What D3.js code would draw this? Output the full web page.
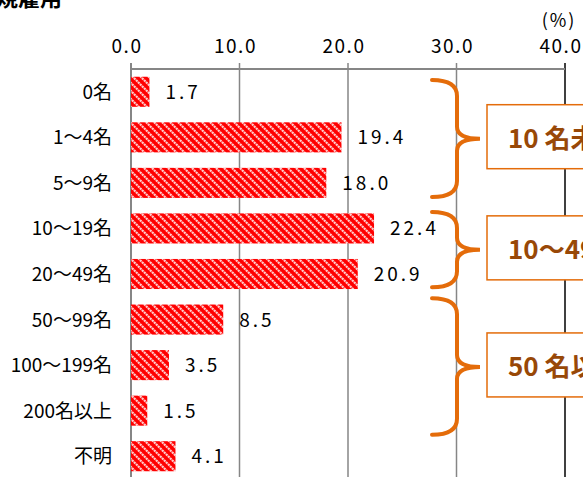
<!DOCTYPE html>
<html>
<head>
<meta charset="utf-8">
<script src="https://cdn.jsdelivr.net/npm/d3@7"></script>
<style>
  body { margin: 0; background: #fff; }
  svg { display: block; font-family: "Noto Sans CJK JP", "Noto Sans", sans-serif; }
</style>
</head>
<body>
<div id="root"></div>
<script>
// data
const categories = ["0名", "1～4名", "5～9名", "10～19名", "20～49名", "50～99名", "100～199名", "200名以上", "不明"]
const values = [1.7, 19.4, 18.0, 22.4, 20.9, 8.5, 3.5, 1.5, 4.1]
const ticks = [0, 10, 20, 30, 40]
// groups: label, brace start/tip/end in row units
const groupLabels = ["10 名未満", "10～49名", "50 名以上"]
const groupStart = [0.24, 3.14, 5.03]
const groupTip = [1.53, 3.97, 6.54]
const groupEnd = [2.81, 4.79, 8.03]

const w = 583, h = 477
const mLeft = 131, mRight = 565, mTop = 69, mBottom = 479

const x = d3.scaleLinear().domain([0, 40]).range([mLeft, mRight])
const y = d3.scaleBand().domain(categories).range([mTop, mBottom]).paddingInner(0.34).paddingOuter(0.17)
const rowY = d3.scaleLinear().domain([0, categories.length]).range([mTop, mBottom])

const svg = d3.select("#root").append("svg")
    .attr("width", w)
    .attr("height", h)

// hatch pattern
const pat = svg.append("defs").append("pattern")
    .attr("id", "hatch")
    .attr("patternUnits", "userSpaceOnUse")
    .attr("width", 8)
    .attr("height", 8)
pat.append("rect").attr("width", 8).attr("height", 8).attr("fill", "#ff0000")
pat.append("path")
    .attr("d", "M-2,-2 L10,10 M-2,6 L2,10 M6,-2 L10,2")
    .attr("stroke", "#ffffff")
    .attr("stroke-opacity", 0.8)
    .attr("stroke-width", 2.2)
    .attr("stroke-dasharray", "2.2,0.6")

// title (cut at top)
svg.append("text")
    .attr("x", 62)
    .attr("y", 6)
    .attr("text-anchor", "end")
    .attr("font-size", 22)
    .attr("font-weight", "bold")
    .attr("fill", "#000")
    .text("正規雇用")

svg.append("text")
    .attr("x", 559)
    .attr("y", 27)
    .attr("text-anchor", "middle")
    .attr("font-size", 18)
    .attr("letter-spacing", 2)
    .attr("fill", "#000")
    .text("(%)")

// grid lines
svg.selectAll("line.grid")
    .data(ticks)
    .enter()
    .append("line")
    .attr("class", "grid")
    .attr("x1", d => x(d))
    .attr("x2", d => x(d))
    .attr("y1", mTop - 6)
    .attr("y2", h)
    .attr("stroke", d => d == 40 ? "#000" : "#868686")
    .attr("stroke-width", d => d == 0 ? 2 : 1.5)

svg.append("line")
    .attr("x1", x(0))
    .attr("x2", x(40))
    .attr("y1", mTop)
    .attr("y2", mTop)
    .attr("stroke", "#868686")
    .attr("stroke-width", 2)

svg.selectAll("text.tick")
    .data(ticks)
    .enter()
    .append("text")
    .attr("class", "tick")
    .attr("x", d => x(d) - 4)
    .attr("y", 53)
    .attr("text-anchor", "middle")
    .attr("font-size", 19)
    .attr("letter-spacing", 1.5)
    .attr("fill", "#000")
    .text(d => d3.format(".1f")(d))

// bars
svg.selectAll("rect.bar")
    .data(values)
    .enter()
    .append("rect")
    .attr("class", "bar")
    .attr("x", x(0))
    .attr("y", (d, i) => y(categories[i]))
    .attr("width", d => x(d) - x(0))
    .attr("height", y.bandwidth())
    .attr("fill", "url(#hatch)")

svg.selectAll("text.value")
    .data(values)
    .enter()
    .append("text")
    .attr("class", "value")
    .attr("x", d => x(d) + 16)
    .attr("y", (d, i) => y(categories[i]) + y.bandwidth() / 2 + 7)
    .attr("font-size", 19)
    .attr("letter-spacing", 3)
    .attr("fill", "#000")
    .text(d => d3.format(".1f")(d))

svg.selectAll("text.cat")
    .data(categories)
    .enter()
    .append("text")
    .attr("class", "cat")
    .attr("x", mLeft - 19)
    .attr("y", d => y(d) + y.bandwidth() / 2 + 7)
    .attr("text-anchor", "end")
    .attr("font-size", 19)
    .attr("fill", "#000")
    .text(d => d)

// braces
const bx0 = 432, bx1 = 457, bx2 = 480
svg.selectAll("path.brace")
    .data(groupLabels)
    .enter()
    .append("path")
    .attr("class", "brace")
    .attr("fill", "none")
    .attr("stroke", "#e46c0a")
    .attr("stroke-width", 4)
    .attr("stroke-linecap", "round")
    .attr("d", (d, i) => {
        const t = rowY(groupStart[i]), m = rowY(groupTip[i]), b = rowY(groupEnd[i])
        return `M${bx0},${t} Q${bx1},${t} ${bx1},${t + 16} L${bx1},${m - 12} Q${bx1},${m} ${bx2},${m}` +
            ` Q${bx1},${m} ${bx1},${m + 12} L${bx1},${b - 16} Q${bx1},${b} ${bx0},${b}`
    })

// group boxes
svg.selectAll("rect.gbox")
    .data(groupLabels)
    .enter()
    .append("rect")
    .attr("class", "gbox")
    .attr("x", 487)
    .attr("y", (d, i) => rowY(groupTip[i]) - 34)
    .attr("width", 130)
    .attr("height", 64)
    .attr("fill", "#fff")
    .attr("stroke", "#e46c0a")
    .attr("stroke-width", 1.5)

svg.selectAll("text.glabel")
    .data(groupLabels)
    .enter()
    .append("text")
    .attr("class", "glabel")
    .attr("x", 508)
    .attr("y", (d, i) => rowY(groupTip[i]) + 9)
    .attr("font-size", 26)
    .attr("font-weight", "bold")
    .attr("fill", "#984807")
    .text(d => d)
</script>
</body>
</html>
